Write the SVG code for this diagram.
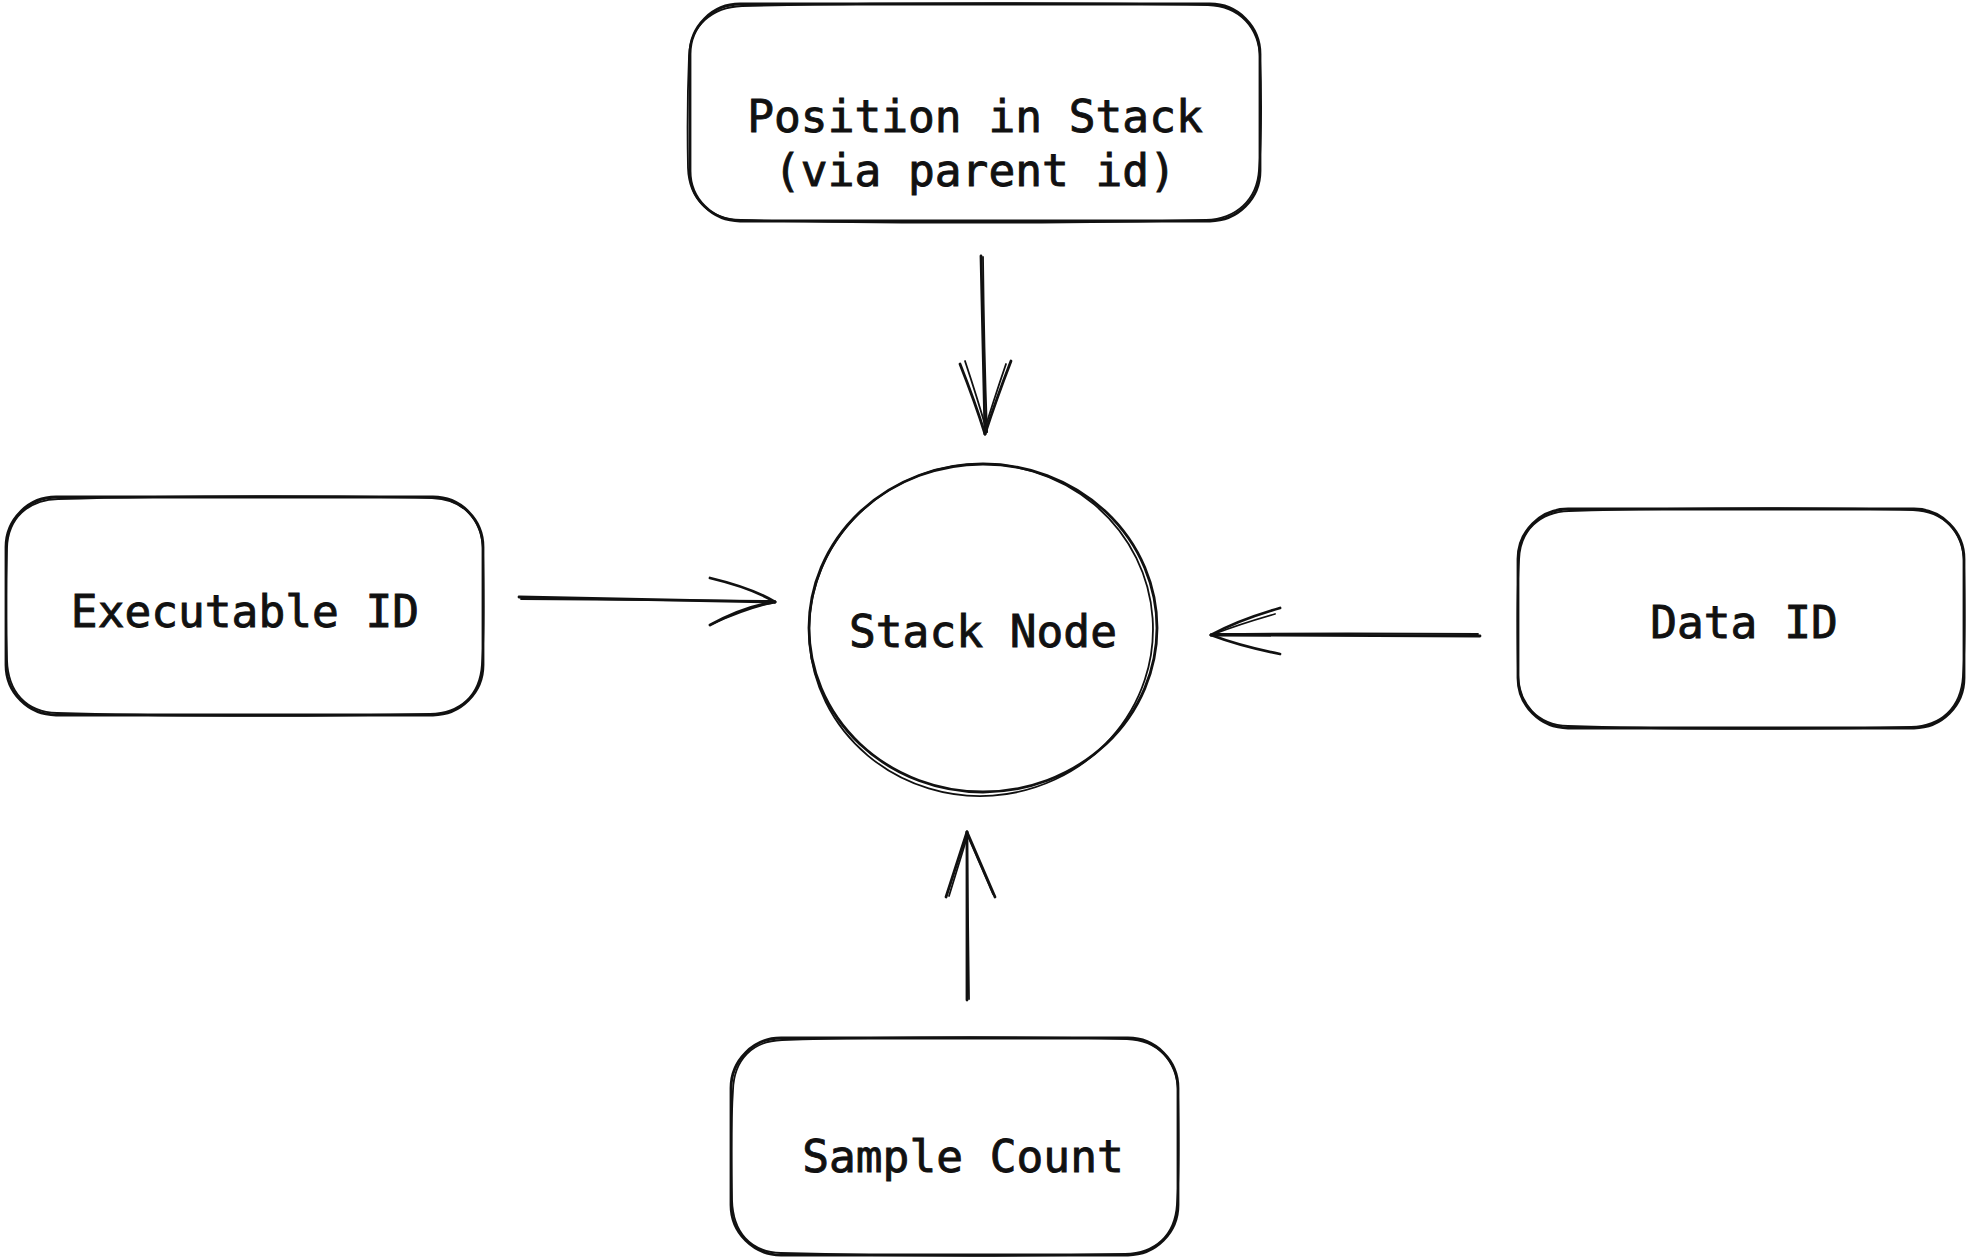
<svg xmlns="http://www.w3.org/2000/svg" width="1967" height="1259" viewBox="0 0 1967 1259">
  <style>
    .ink { fill: none; stroke: #111; stroke-width: 2.8; stroke-linecap: round; stroke-linejoin: round; }
    .ink2 { fill: none; stroke: #111; stroke-width: 1.8; stroke-linecap: round; stroke-linejoin: round; }
    .label { font-family: "DejaVu Sans Mono", "Liberation Mono", monospace; font-size: 44.5px; fill: #111; stroke: #111; stroke-width: 0.9; text-anchor: middle; }
  </style>
  <rect width="1967" height="1259" fill="#ffffff"/>

  <!-- top box -->
  <g id="position-in-stack">
    <rect class="ink" x="690" y="4" width="570" height="217" rx="50" ry="50"/>
    <path class="ink2" d="M742 6 C900 2 1100 3 1208 5 C1240 6 1259 28 1260 58 C1262 100 1261 150 1259 170 C1257 200 1236 219 1206 220 C1050 224 850 223 741 220 C708 219 689 198 688 168 C687 120 688 80 689 56 C690 26 712 7 742 6 Z"/>
    <text class="label" x="975" y="132">Position in Stack</text>
    <text class="label" x="975" y="186">(via parent id)</text>
  </g>

  <!-- left box -->
  <g id="executable-id">
    <rect class="ink" x="6" y="497" width="477" height="218" rx="50" ry="50"/>
    <path class="ink2" d="M58 499 C200 495 360 496 432 498 C464 499 482 520 483 550 C484 600 484 640 482 664 C480 696 460 713 430 714 C300 717 150 716 57 713 C26 712 8 692 7 660 C5 610 6 580 7 548 C8 518 28 500 58 499 Z"/>
    <text class="label" x="245" y="627">Executable ID</text>
  </g>

  <!-- right box -->
  <g id="data-id">
    <rect class="ink" x="1518" y="509" width="446" height="219" rx="50" ry="50"/>
    <path class="ink2" d="M1569 511 C1700 507 1850 508 1913 510 C1944 511 1963 532 1964 562 C1965 610 1965 650 1963 676 C1961 708 1941 726 1911 727 C1800 730 1650 729 1568 726 C1537 725 1519 704 1518 674 C1517 620 1517 590 1519 560 C1520 530 1540 512 1569 511 Z"/>
    <text class="label" x="1744" y="638">Data ID</text>
  </g>

  <!-- bottom box -->
  <g id="sample-count">
    <rect class="ink" x="731" y="1038" width="447" height="217" rx="50" ry="50"/>
    <path class="ink2" d="M782 1040 C900 1036 1050 1037 1127 1039 C1158 1040 1177 1061 1178 1091 C1179 1140 1179 1180 1177 1204 C1175 1236 1155 1253 1125 1254 C1000 1257 880 1256 781 1253 C750 1252 733 1232 732 1200 C731 1150 731 1120 733 1090 C734 1060 752 1041 782 1040 Z"/>
    <text class="label" x="963" y="1172">Sample Count</text>
  </g>

  <!-- central node -->
  <g id="stack-node">
    <ellipse class="ink" cx="983" cy="628" rx="174" ry="164"/>
    <ellipse class="ink2" cx="981" cy="630" rx="172" ry="166" transform="rotate(-4 981 630)"/>
    <text class="label" x="983" y="647">Stack Node</text>
  </g>

  <!-- connectors -->
  <g id="connectors">
    <!-- top box to node -->
    <path class="ink" d="M981 256 L985 434"/>
    <path class="ink2" d="M983 257 Q984 350 987 432"/>
    <path class="ink" d="M960 364 Q975 402 985 434"/>
    <path class="ink2" d="M965 361 Q978 400 987 432"/>
    <path class="ink" d="M1011 361 Q996 400 985 434"/>
    <path class="ink2" d="M1006 364 Q993 402 984 432"/>

    <!-- executable id to node -->
    <path class="ink" d="M519 597 L775 602"/>
    <path class="ink2" d="M521 599 Q650 600 773 601"/>
    <path class="ink" d="M710 578 Q752 588 775 602"/>
    <path class="ink" d="M710 625 Q745 606 775 602"/>
    <path class="ink2" d="M712 624 Q748 608 772 603"/>

    <!-- data id to node -->
    <path class="ink" d="M1480 636 L1211 635"/>
    <path class="ink2" d="M1478 634 Q1350 633 1213 634"/>
    <path class="ink" d="M1280 608 Q1238 620 1211 635"/>
    <path class="ink2" d="M1275 614 Q1240 624 1214 634"/>
    <path class="ink" d="M1280 654 Q1240 646 1211 635"/>

    <!-- sample count to node -->
    <path class="ink" d="M967 1000 L967 832"/>
    <path class="ink2" d="M969 999 Q968 900 967 834"/>
    <path class="ink" d="M946 897 L967 832"/>
    <path class="ink2" d="M949 896 L968 834"/>
    <path class="ink" d="M995 897 L967 832"/>
    <path class="ink2" d="M993 894 L967 834"/>
  </g>
</svg>
